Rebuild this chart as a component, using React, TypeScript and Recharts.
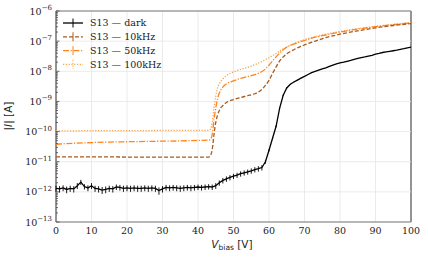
import {
  CartesianGrid,
  ErrorBar,
  Legend,
  Line,
  LineChart,
  ReferenceArea,
  ReferenceLine,
  XAxis,
  YAxis,
} from 'recharts';

// dark current, 1 V steps
const darkV = [
  0, 1, 2, 3, 4, 5, 6, 7, 8, 9,
  10, 11, 12, 13, 14, 15, 16, 17, 18, 19,
  20, 21, 22, 23, 24, 25, 26, 27, 28, 29,
  30, 31, 32, 33, 34, 35, 36, 37, 38, 39,
  40, 41, 42, 43, 44, 45, 46, 47, 48, 49,
  50, 51, 52, 53, 54, 55, 56, 57, 58, 59,
  60, 61, 62, 63, 64, 65, 66, 67, 68, 69,
  70, 71, 72, 73, 74, 75, 76, 77, 78, 79,
  80, 81, 82, 83, 84, 85, 86, 87, 88, 89,
  90, 91, 92, 93, 94, 95, 96, 97, 98, 99,
  100,
];
const darkI = [
  1.3e-12, 1.25e-12, 1.35e-12, 1.2e-12, 1.3e-12, 1.25e-12, 1.6e-12, 2.1e-12, 1.5e-12, 1.35e-12,
  1.6e-12, 1.3e-12, 1.25e-12, 1.15e-12, 1.2e-12, 1.3e-12, 1.25e-12, 1.45e-12, 1.4e-12, 1.3e-12,
  1.35e-12, 1.3e-12, 1.35e-12, 1.3e-12, 1.3e-12, 1.35e-12, 1.3e-12, 1.35e-12, 1.3e-12, 1.1e-12,
  1.25e-12, 1.4e-12, 1.35e-12, 1.4e-12, 1.35e-12, 1.3e-12, 1.35e-12, 1.4e-12, 1.35e-12, 1.4e-12,
  1.45e-12, 1.4e-12, 1.45e-12, 1.5e-12, 1.45e-12, 1.6e-12, 2.0e-12, 2.4e-12, 2.7e-12, 3.0e-12,
  3.3e-12, 3.6e-12, 4.0e-12, 4.3e-12, 4.6e-12, 5.0e-12, 5.5e-12, 5.9e-12, 6.4e-12, 1.0e-11,
  2.4e-11, 6.0e-11, 1.5e-10, 6e-10, 1.6e-9, 2.8e-9, 3.7e-9, 4.4e-9, 5.1e-9, 5.9e-9,
  6.8e-9, 7.8e-9, 9e-9, 1.0e-8, 1.1e-8, 1.2e-8, 1.3e-8, 1.45e-8, 1.6e-8, 1.75e-8,
  1.9e-8, 2.0e-8, 2.15e-8, 2.3e-8, 2.5e-8, 2.7e-8, 2.85e-8, 3.0e-8, 3.2e-8, 3.4e-8,
  3.7e-8, 3.9e-8, 4.2e-8, 4.4e-8, 4.6e-8, 4.8e-8, 5.0e-8, 5.3e-8, 5.6e-8, 6.0e-8,
  6.3e-8,
];
const darkErr = [
  3e-13, 3e-13, 3e-13, 3e-13, 3e-13, 3e-13, 3.5e-13, 4e-13, 3e-13, 3e-13,
  3.5e-13, 3e-13, 3e-13, 3e-13, 3e-13, 3e-13, 3e-13, 3e-13, 3e-13, 3e-13,
  3e-13, 3e-13, 3e-13, 3e-13, 3e-13, 3e-13, 3e-13, 3e-13, 3e-13, 3e-13,
  3e-13, 3e-13, 3e-13, 3e-13, 3e-13, 3e-13, 3e-13, 3e-13, 3e-13, 3e-13,
  3e-13, 3e-13, 3e-13, 3e-13, 3e-13, 3.5e-13, 4e-13, 5e-13, 5.5e-13, 6e-13,
  6.5e-13, 7e-13, 8e-13, 8.5e-13, 9e-13, 1e-12, 1.1e-12, 1.2e-12, 1.3e-12, 1.5e-12,
  2e-12, 4e-12, 1e-11, 3e-11, 8e-11, 1e-10, 1e-10, 1e-10, 1e-10, 1e-10,
  1e-10, 1e-10, 1e-10, 1e-10, 1e-10, 1e-10, 1e-10, 1e-10, 1e-10, 1e-10,
  1e-10, 1e-10, 1e-10, 1e-10, 1e-10, 1e-10, 1e-10, 1e-10, 1e-10, 1e-10,
  1e-10, 1e-10, 1e-10, 1e-10, 1e-10, 1e-10, 1e-10, 1e-10, 1e-10, 1e-10,
  1e-10,
];

// illuminated curves share one voltage grid
const lightV = [
  0, 5, 10, 15, 20, 25, 30, 35, 40, 43, 43.5, 44, 44.5, 45, 45.5, 46, 46.5, 47, 48, 50, 52,
  54, 56, 57, 58, 59, 60, 61, 62, 63, 64, 65, 66, 68, 70, 73, 76, 80, 85, 90, 95, 100,
];
const i10k = [
  1.45e-11, 1.45e-11, 1.44e-11, 1.44e-11, 1.43e-11, 1.43e-11, 1.42e-11, 1.42e-11, 1.41e-11,
  1.42e-11, 1.6e-11, 2.5e-11, 8e-11, 2e-10, 3.5e-10, 5e-10, 6.3e-10, 7.3e-10, 9.2e-10, 1.15e-9,
  1.35e-9, 1.55e-9, 1.8e-9, 2.05e-9, 2.5e-9, 3.4e-9, 5e-9, 8.5e-9, 1.4e-8, 2.2e-8, 3e-8, 3.8e-8,
  4.5e-8, 6e-8, 7.5e-8, 1e-7, 1.3e-7, 1.7e-7, 2.2e-7, 2.75e-7, 3.3e-7, 3.8e-7,
];
const i50k = [
  3.8e-11, 4.1e-11, 4.3e-11, 4.5e-11, 4.6e-11, 4.7e-11, 4.8e-11, 4.9e-11, 5.1e-11,
  5.2e-11, 5.5e-11, 8e-11, 2.5e-10, 6e-10, 1.2e-9, 1.9e-9, 2.5e-9, 3e-9, 3.8e-9, 4.8e-9,
  5.8e-9, 6.7e-9, 7.7e-9, 8.5e-9, 9.8e-9, 1.2e-8, 1.6e-8, 2.2e-8, 3e-8, 4e-8, 5.2e-8, 6.3e-8,
  7.2e-8, 8.8e-8, 1.05e-7, 1.35e-7, 1.6e-7, 2e-7, 2.5e-7, 3e-7, 3.5e-7, 4e-7,
];
const i100k = [
  1.05e-10, 1.06e-10, 1.07e-10, 1.07e-10, 1.08e-10, 1.08e-10, 1.09e-10, 1.09e-10, 1.1e-10,
  1.1e-10, 1.2e-10, 2e-10, 6e-10, 1.5e-9, 2.8e-9, 3.8e-9, 4.8e-9, 5.6e-9, 7.2e-9, 9.5e-9,
  1.15e-8, 1.35e-8, 1.65e-8, 1.85e-8, 2.1e-8, 2.45e-8, 2.85e-8, 3.3e-8, 3.9e-8, 4.7e-8, 5.6e-8,
  6.4e-8, 7.3e-8, 9.3e-8, 1.12e-7, 1.4e-7, 1.7e-7, 2.1e-7, 2.6e-7, 3.1e-7, 3.6e-7, 4.1e-7,
];

const xTicks = [0, 10, 20, 30, 40, 50, 60, 70, 80, 90, 100];
const decades = [1e-13, 1e-12, 1e-11, 1e-10, 1e-9, 1e-8, 1e-7, 1e-6];
const minorSteps = [1, 2, 3, 4, 5, 6, 7, 8, 9];

const seriesNames = ['S13 — dark', 'S13 — 10kHz', 'S13 — 50kHz', 'S13 — 100kHz'];
const colors = ['#000000', '#a85a1f', '#ff8419', '#f7a34d'];
const dashes = [undefined, '4 2', '6 1.6 1.2 1.6', '1.2 1.6'];

const yTicks = decades.flatMap((d, k) =>
  k === decades.length - 1 ? [d] : minorSteps.map((m) => m * d),
);

const darkRows = darkV.map((v, k) => ({ v, i: darkI[k], err: darkErr[k] }));
const rows10k = lightV.map((v, k) => ({ v, i: i10k[k] }));
const rows50k = lightV.map((v, k) => ({ v, i: i50k[k] }));
const rows100k = lightV.map((v, k) => ({ v, i: i100k[k] }));

const serif = 'DejaVu Serif';
const sans = 'DejaVu Sans';

function LogTick(props: any) {
  const { x, y, payload } = props;
  const e = Math.log10(payload.value);
  const major = Math.abs(e - Math.round(e)) < 1e-6;
  return (
    <g>
      <line x1={x} x2={x + (major ? 3.5 : 2)} y1={y} y2={y} stroke="#333" strokeWidth={0.7} />
      {major && (
        <text x={x - 4} y={y + 3.5} textAnchor="end" fontFamily={serif} fontSize={9.5} fill="#222">
          10
          <tspan dy={-4.5} fontSize={7}>
            {'−' + String(-Math.round(e))}
          </tspan>
        </text>
      )}
    </g>
  );
}

function XTitle() {
  return (
    <text x={232} y={248} textAnchor="middle" fontFamily={sans} fontSize={10.5} fill="#222">
      <tspan fontStyle="italic">V</tspan>
      <tspan fontSize={7.5} dy={2}>
        bias
      </tspan>
      <tspan dy={-2}> [V]</tspan>
    </text>
  );
}

function YTitle() {
  return (
    <text
      x={12}
      y={116}
      transform="rotate(-90, 12, 116)"
      textAnchor="middle"
      fontFamily={sans}
      fontSize={10.5}
      fill="#222"
    >
      |<tspan fontStyle="italic">I</tspan>| [A]
    </text>
  );
}

function LegendBox() {
  return (
    <svg width={140} height={62}>
      {seriesNames.map((name, k) => {
        const y = 9 + k * 13.8;
        return (
          <g key={name}>
            <line x1={5} x2={25} y1={y} y2={y} stroke={colors[k]} strokeWidth={1.3} strokeDasharray={dashes[k]} />
            <line x1={15} x2={15} y1={y - 4.5} y2={y + 4.5} stroke={colors[k]} strokeWidth={1} strokeDasharray={k === 3 ? '1.2 1.6' : undefined} />
            <text x={32} y={y + 3.4} fontFamily={serif} fontSize={9.5} fill="#222">
              {name}
            </text>
          </g>
        );
      })}
    </svg>
  );
}

export default function App() {
  return (
    <div style={{ position: 'absolute', left: 0, top: 0, background: '#fff' }}>
      <LineChart width={428} height={259} margin={{ top: 11, right: 17, bottom: 17, left: 6 }}>
        <CartesianGrid horizontal={false} stroke="#e6e6e6" strokeWidth={0.8} />
        {decades.map((d) => (
          <ReferenceLine key={d} y={d} stroke="#e6e6e6" strokeWidth={0.8} />
        ))}
        <XAxis
          type="number"
          dataKey="v"
          domain={[0, 100]}
          ticks={xTicks}
          interval={0}
          tickLine={false}
          axisLine={false}
          tickSize={0}
          tickMargin={5}
          height={20}
          tick={{ fontFamily: serif, fontSize: 9.5, fill: '#222' }}
          allowDataOverflow
          label={<XTitle />}
        />
        <YAxis
          type="number"
          scale="log"
          domain={[1e-13, 1e-6]}
          ticks={yTicks}
          interval={0}
          tickLine={false}
          axisLine={false}
          tickSize={0}
          tickMargin={0}
          width={50}
          tick={<LogTick />}
          allowDataOverflow
          label={<YTitle />}
        />
        <Line data={rows100k} dataKey="i" type="monotone" stroke={colors[3]} strokeWidth={1.3} strokeDasharray={dashes[3]} dot={false} isAnimationActive={false} />
        <Line data={rows50k} dataKey="i" type="monotone" stroke={colors[2]} strokeWidth={1.3} strokeDasharray={dashes[2]} dot={false} isAnimationActive={false} />
        <Line data={rows10k} dataKey="i" type="monotone" stroke={colors[1]} strokeWidth={1.3} strokeDasharray={dashes[1]} dot={false} isAnimationActive={false} />
        <Line data={darkRows} dataKey="i" type="linear" stroke={colors[0]} strokeWidth={1.3} dot={false} isAnimationActive={false}>
          <ErrorBar dataKey="err" width={0} stroke="#000" strokeWidth={0.9} direction="y" isAnimationActive={false} />
        </Line>
        <ReferenceArea x1={0} x2={100} y1={1e-13} y2={1e-6} fill="none" fillOpacity={0} stroke="#333" strokeWidth={1} ifOverflow="visible" />
        <Legend
          layout="vertical"
          align="center"
          verticalAlign="middle"
          wrapperStyle={{ left: 58, top: 14, width: 140, height: 62 }}
          content={() => <LegendBox />}
        />
      </LineChart>
    </div>
  );
}
